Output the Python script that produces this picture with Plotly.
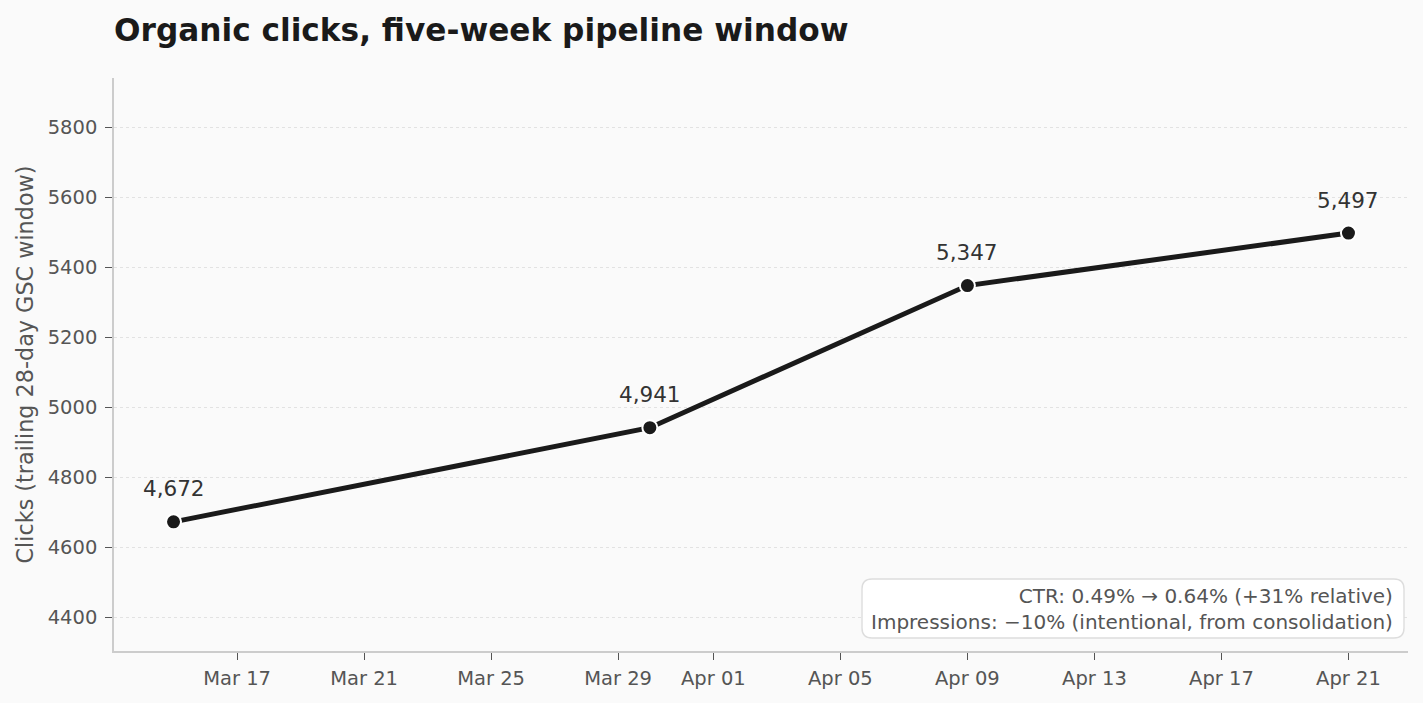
import plotly.graph_objects as go

dates = ["2025-03-15", "2025-03-30", "2025-04-09", "2025-04-21"]
clicks = [4672, 4941, 5347, 5497]
labels = ["4,672", "4,941", "5,347", "5,497"]
x_tickvals = ["2025-03-17", "2025-03-21", "2025-03-25", "2025-03-29", "2025-04-01",
              "2025-04-05", "2025-04-09", "2025-04-13", "2025-04-17", "2025-04-21"]
x_ticktext = ["Mar 17", "Mar 21", "Mar 25", "Mar 29", "Apr 01",
              "Apr 05", "Apr 09", "Apr 13", "Apr 17", "Apr 21"]
y_tickvals = [4400, 4600, 4800, 5000, 5200, 5400, 5600, 5800]
note_lines = ["CTR: 0.49% → 0.64% (+31% relative)",
              "Impressions: −10% (intentional, from consolidation)"]

FONT = "DejaVu Sans"
W, H = 1423, 703
L, R, T, B = 114, 15, 78, 52

fig = go.Figure()
fig.add_trace(go.Scatter(
    x=dates, y=clicks, mode="lines+markers",
    line=dict(color="#1a1a1a", width=5),
    marker=dict(size=15, color="#1a1a1a", line=dict(color="white", width=2)),
    showlegend=False, cliponaxis=False,
))

for d, v, t in zip(dates, clicks, labels):
    fig.add_annotation(x=d, y=v, text=t, showarrow=False, yshift=33,
                       xanchor="center", yanchor="middle",
                       font=dict(family=FONT, size=21.5, color="#333333"))

fig.update_layout(
    width=W, height=H,
    paper_bgcolor="#fafafa", plot_bgcolor="#fafafa",
    margin=dict(l=L, r=R, t=T, b=B),
    title=dict(text="<b>Organic clicks, five-week pipeline window</b>",
               x=L / W, xanchor="left", y=1 - 30 / H, yanchor="middle",
               font=dict(family=FONT, size=31.2, color="#1a1a1a")),
    font=dict(family=FONT, color="#555555"),
    xaxis=dict(
        type="date", range=["2025-03-13 03:00", "2025-04-22 21:00"],
        tickvals=x_tickvals, ticktext=x_ticktext,
        tickfont=dict(family=FONT, size=19.5, color="#555555"),
        ticks="outside", ticklen=7, tickcolor="#555555", tickwidth=1.4,
        ticklabelstandoff=2,
        showgrid=False, zeroline=False,
        showline=True, linecolor="#cccccc", linewidth=1.6,
    ),
    yaxis=dict(
        range=[4303, 5940], tickvals=y_tickvals,
        tickfont=dict(family=FONT, size=19.5, color="#555555"),
        ticks="outside", ticklen=7, tickcolor="#555555", tickwidth=1.4,
        ticklabelstandoff=4,
        showgrid=True, gridcolor="#e2e2e2", griddash="dot", gridwidth=1,
        zeroline=False, showline=True, linecolor="#cccccc", linewidth=1.6,
        title=dict(text="Clicks (trailing 28-day GSC window)",
                   font=dict(family=FONT, size=22.3, color="#555555"), standoff=8),
    ),
)

# rounded note box (pixel coords -> paper)
x0p, x1p, y0p, y1p = 862, 1404, 579, 638
def px(x): return (x - L) / (W - L - R)
def py(y): return 1 - (y - T) / (H - T - B)
r = 10
rx = r / (W - L - R)
ry = r / (H - T - B)
ax0, ax1, ay0, ay1 = px(x0p), px(x1p), py(y1p), py(y0p)
path = (f"M {ax0+rx},{ay0} L {ax1-rx},{ay0} Q {ax1},{ay0} {ax1},{ay0+ry} "
        f"L {ax1},{ay1-ry} Q {ax1},{ay1} {ax1-rx},{ay1} L {ax0+rx},{ay1} "
        f"Q {ax0},{ay1} {ax0},{ay1-ry} L {ax0},{ay0+ry} Q {ax0},{ay0} {ax0+rx},{ay0} Z")
fig.add_shape(type="path", path=path, xref="paper", yref="paper",
              fillcolor="white", line=dict(color="#dddddd", width=1.4), layer="above")
fig.add_annotation(
    text="<br>".join(note_lines), xref="paper", yref="paper",
    x=px(1395), y=py(609), xanchor="right", yanchor="middle", align="right",
    showarrow=False, font=dict(family=FONT, size=20, color="#555555"),
)

fig.write_html("out.html")
